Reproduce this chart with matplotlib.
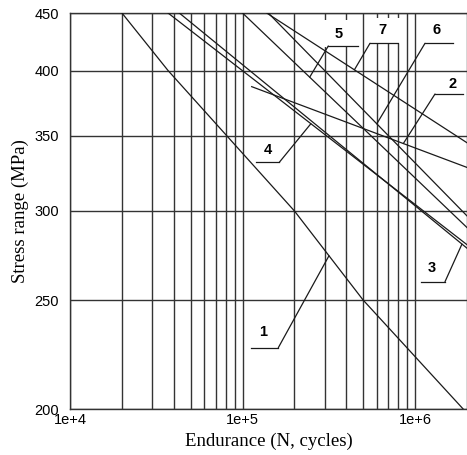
import numpy as np
import matplotlib
matplotlib.use("Agg")
import matplotlib.pyplot as plt
from matplotlib.patches import Rectangle
from matplotlib.ticker import FixedLocator, NullFormatter

# S-N curves (N cycles, stress MPa)
curve1_n = [2.0e4, 3.7e4, 8.1e4, 2.0e5, 5.0e5, 1.9e6]
curve1_s = [450, 400, 350, 300, 250, 200]
curve2_n = [1.13e5, 2.0e6]
curve2_s = [387, 328]
curve3_n = [4.3e4, 2.0e6]
curve3_s = [450, 278]
curve4_n = [3.7e4, 2.0e6]
curve4_s = [450, 280]
curve5_n = [1.0e5, 2.0e6]
curve5_s = [450, 290]
curve6_n = [1.41e5, 2.0e6]
curve6_s = [450, 297]
curve7_n = [1.38e5, 2.0e6]
curve7_s = [450, 345]

curves = {
    "1": (curve1_n, curve1_s),
    "2": (curve2_n, curve2_s),
    "3": (curve3_n, curve3_s),
    "4": (curve4_n, curve4_s),
    "5": (curve5_n, curve5_s),
    "6": (curve6_n, curve6_s),
    "7": (curve7_n, curve7_s),
}

# where each leader touches its curve (cycles)
leader_n = {"1": 3.17e5, "2": 8.55e5, "3": 1.87e6, "4": 2.49e5,
            "5": 2.45e5, "6": 6.0e5, "7": 4.45e5}

x_ticks = [1e4, 1e5, 1e6]
x_tick_labels = ["1e+4", "1e+5", "1e+6"]
y_ticks = [200, 250, 300, 350, 400, 450]

W, H = 467, 455
L, R, T, B = 70, 467, 13, 409


def frac(px, py):
    # figure pixel -> axes fraction
    return (px - L) / (R - L), (B - py) / (B - T)


def on_curve(key, n):
    cn, cs = curves[key]
    return n, np.exp(np.interp(np.log(n), np.log(cn), np.log(cs)))


fig = plt.figure(figsize=(W / 100, H / 100), dpi=100)
ax = fig.add_axes([L / W, 1 - B / H, (R - L) / W, (B - T) / H])
ax.set_xscale("log")
ax.set_yscale("log")
ax.set_xlim(1e4, 2e6)
ax.set_ylim(200, 450)

ax.xaxis.set_major_locator(FixedLocator(x_ticks))
ax.set_xticklabels(x_tick_labels)
minors = [m * 10 ** k for k in (4, 5) for m in range(2, 10)]
ax.xaxis.set_minor_locator(FixedLocator(minors))
ax.xaxis.set_minor_formatter(NullFormatter())
ax.yaxis.set_major_locator(FixedLocator(y_ticks))
ax.set_yticklabels([str(v) for v in y_ticks])
ax.yaxis.set_minor_locator(FixedLocator([]))

ax.grid(True, which="both", axis="x", color="#333333", lw=1.0)
ax.grid(True, which="major", axis="y", color="#333333", lw=1.0)
ax.tick_params(which="both", length=0)
ax.tick_params(axis="y", pad=8)
ax.tick_params(axis="x", pad=3)
for lab in ax.get_xticklabels() + ax.get_yticklabels():
    lab.set_fontfamily("Liberation Sans")
    lab.set_fontsize(10.5)
for sp in ax.spines.values():
    sp.set_color("#333333")
    sp.set_linewidth(1.0)

for key, (cn, cs) in curves.items():
    ax.plot(cn, cs, color="#1a1a1a", lw=0.9, zorder=4)

# white patches behind labels 5 and 7
for (x0, y0, x1, y1) in [(322, 20, 359, 46.5), (368, 17.5, 400, 43.5)]:
    fx0, fy0 = frac(x0, y1)
    fx1, fy1 = frac(x1, y0)
    ax.add_patch(Rectangle((fx0, fy0), fx1 - fx0, fy1 - fy0, transform=ax.transAxes,
                           facecolor="white", edgecolor="none", zorder=3))

# label: text centre, underline x-range, underline y, leader side
labels = {
    "1": ((263.3, 332.3), (251, 278.3), 347.7, "right"),
    "3": ((431.7, 268.3), (420.7, 445), 281.7, "right"),
    "4": ((268.3, 150), (256, 279.3), 162.3, "right"),
    "5": ((339, 34), (328.3, 358.3), 46, "left"),
    "7": ((382.7, 30), (370, 398.3), 43.3, "left"),
    "6": ((436.7, 30), (425, 453.3), 43.3, "left"),
    "2": ((452.7, 84), (435, 463.3), 94, "left"),
}
for key, (tpos, (ux0, ux1), uy, side) in labels.items():
    ax.text(*frac(*tpos), key, transform=ax.transAxes, ha="center", va="center",
            fontsize=10.5, fontweight="bold", family="Liberation Sans", zorder=5)
    a, b = frac(ux0, uy), frac(ux1, uy)
    ax.plot([a[0], b[0]], [a[1], b[1]], transform=ax.transAxes,
            color="#1a1a1a", lw=0.9, zorder=5, clip_on=False)
    start = b if side == "right" else a
    ax.annotate("", xy=on_curve(key, leader_n[key]), xycoords="data",
                xytext=start, textcoords="axes fraction",
                arrowprops=dict(arrowstyle="-", color="#1a1a1a", lw=0.9,
                                shrinkA=0, shrinkB=0), zorder=5)

ax.set_xlabel("Endurance (N, cycles)", family="Liberation Serif", fontsize=13.5, labelpad=4)
ax.set_ylabel("Stress range (MPa)", family="Liberation Serif", fontsize=13.5, labelpad=4)

fig.savefig("out.png", dpi=100)
